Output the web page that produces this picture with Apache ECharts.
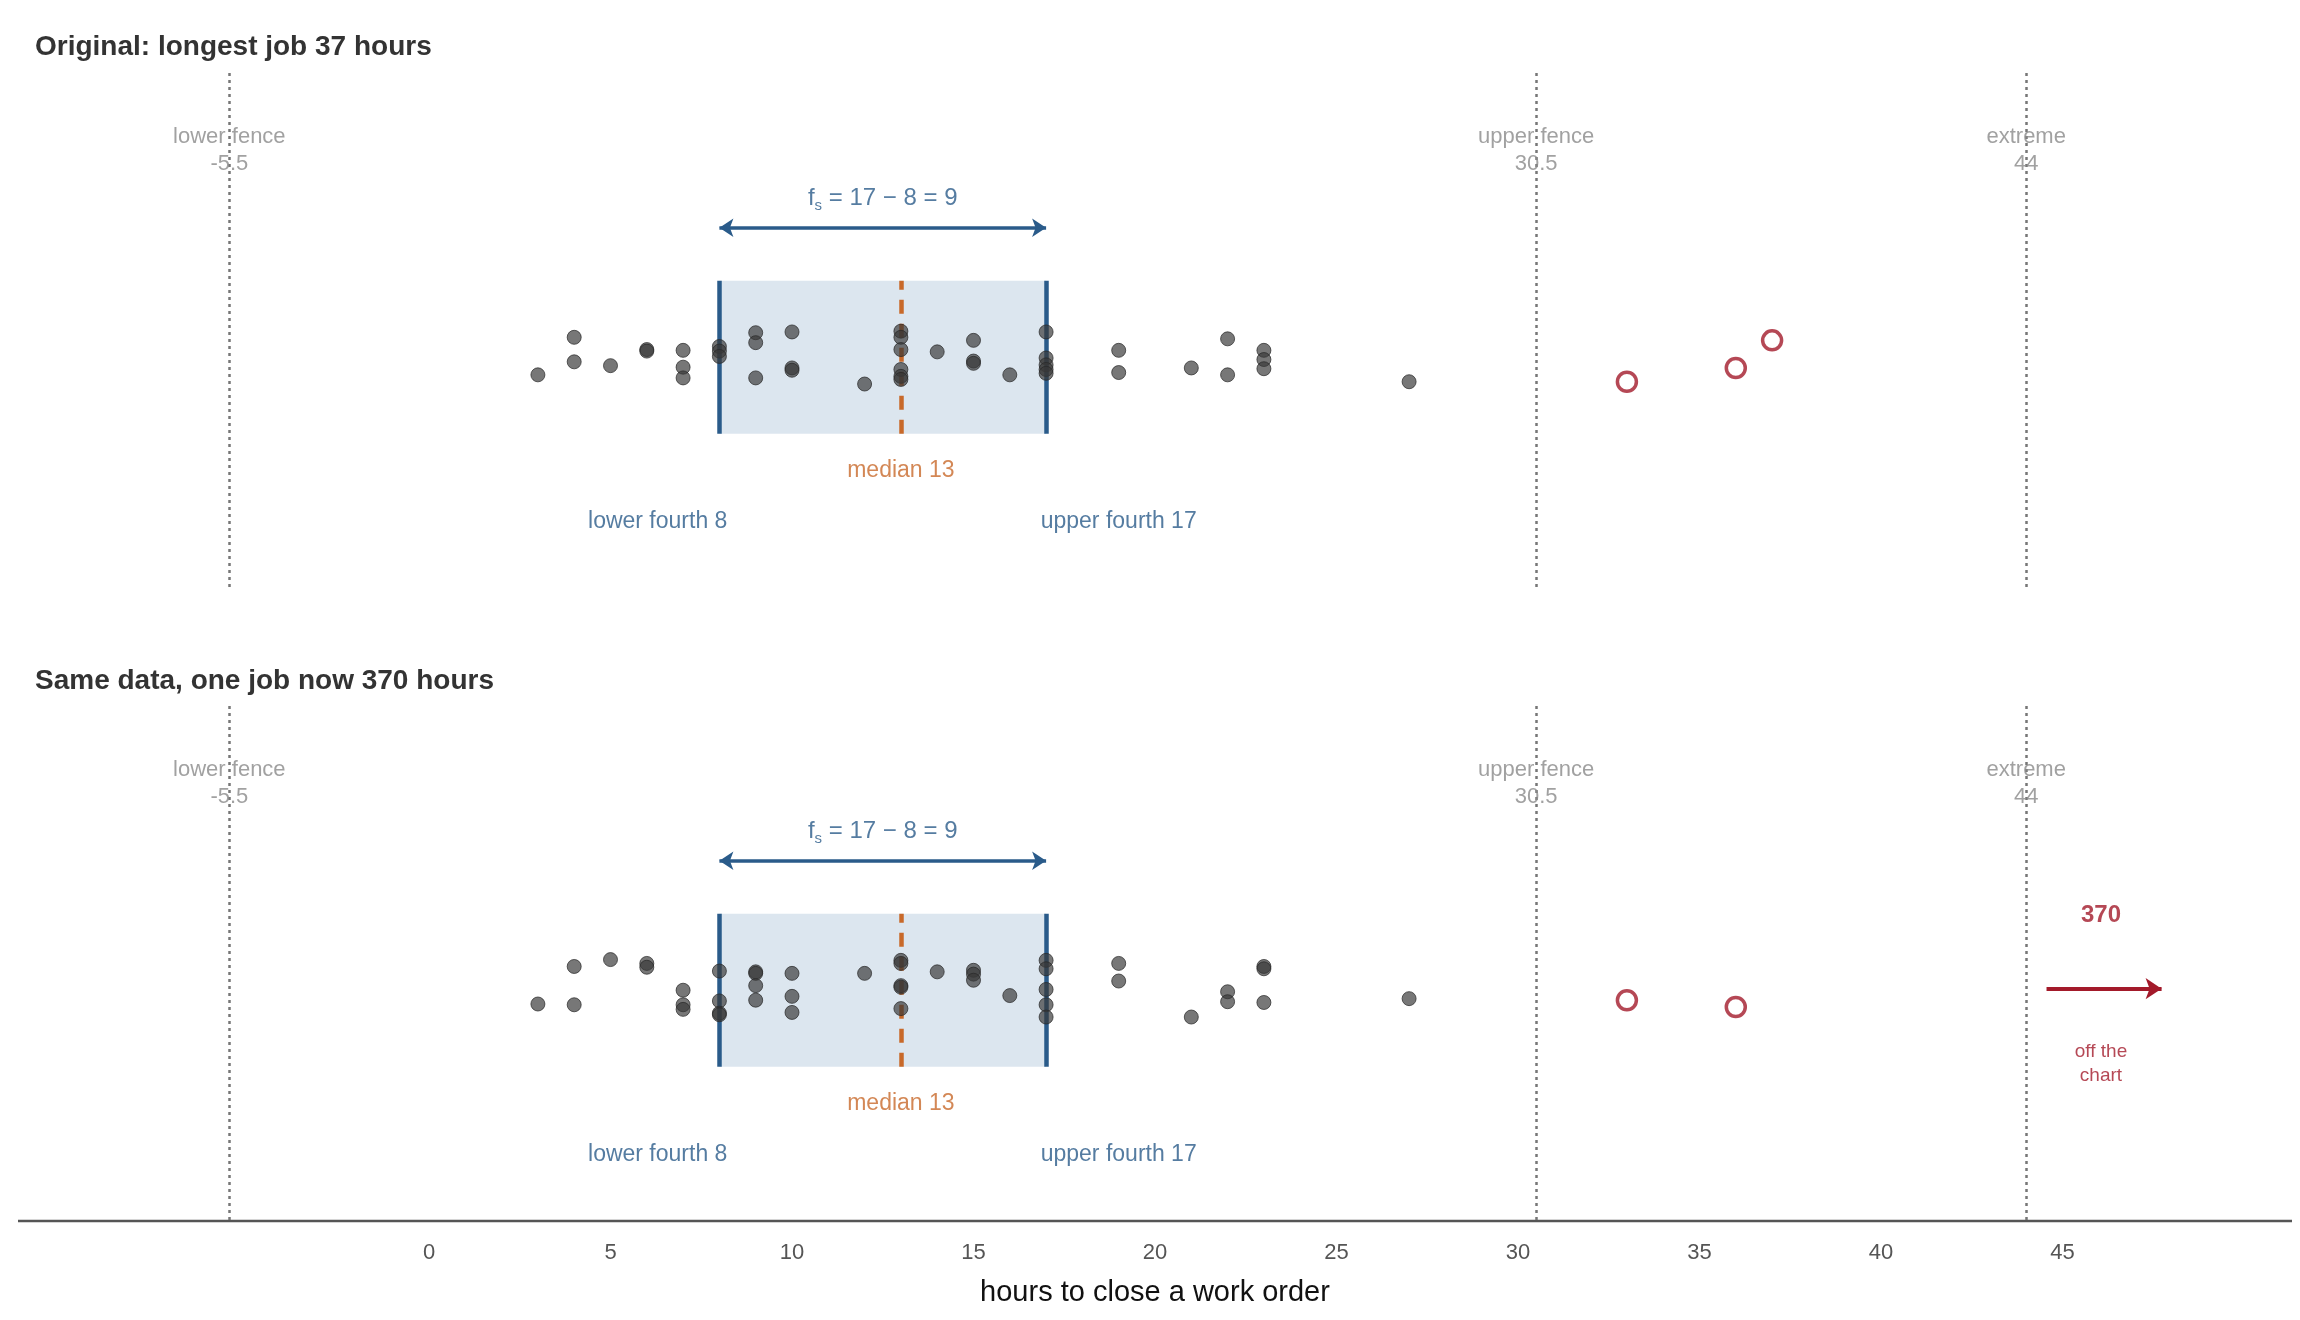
<!DOCTYPE html>
<html>
<head>
<meta charset="utf-8">
<script src="https://cdn.jsdelivr.net/npm/echarts@6/dist/echarts.min.js"></script>
<style>html,body{margin:0;background:#fff}#chart{width:2300px;height:1320px}</style>
</head>
<body>
<div id="chart"></div>
<script>
// hours per job, with a vertical jitter (box spans -1..1)
var topHours  = [3,4,4,5,6,6,7,7,7,8,8,8,9,9,9,10,10,10,12,13,13,13,13,13,13,14,15,15,15,16,17,17,17,17,17,19,19,21,22,22,23,23,23,27];
var topJitter = [-0.23,0.26,-0.06,-0.11,0.1,0.08,0.09,-0.13,-0.27,0.14,0.08,0.01,0.32,0.19,-0.27,0.33,-0.14,-0.17,-0.35,0.34,0.26,0.1,-0.16,-0.25,-0.29,0.07,0.22,-0.05,-0.08,-0.23,0.33,-0.01,-0.1,-0.16,-0.21,0.09,-0.2,-0.14,0.24,-0.23,0.09,-0.03,-0.15,-0.32];
var botHours  = [3,4,4,5,6,6,7,7,7,8,8,8,8,9,9,9,9,10,10,10,12,13,13,13,13,13,14,15,15,15,16,17,17,17,17,17,19,19,21,22,22,23,23,23,27];
var botJitter = [-0.18,0.31,-0.19,0.4,0.35,0.3,0.0,-0.19,-0.25,0.25,-0.14,-0.3,-0.32,0.24,0.22,0.06,-0.13,0.22,-0.08,-0.29,0.22,0.39,0.35,0.06,0.04,-0.24,0.24,0.26,0.21,0.13,-0.07,0.39,0.28,0.01,-0.19,-0.35,0.35,0.12,-0.35,-0.02,-0.15,0.31,0.28,-0.16,-0.11];
var topOutliers = [[33,-0.32],[36,-0.14],[37,0.22]];
var botOutliers = [[33,-0.13],[36,-0.22]];
var lowerFourth = 8, upperFourth = 17, median = 13;
var lowerFence = -5.5, upperFence = 30.5, extreme = 44;
var offChartValue = 370;
var xTicks = [0,5,10,15,20,25,30,35,40,45];

var blue = '#2a5b8a', orange = '#c8692a', red = '#a31a2a', grey = '#8a8a8a';

function pairs(xs, ys) { return xs.map(function (x, i) { return [x, ys[i]]; }); }

function panelSeries(idx, hours, jitter, outliers) {
  var out = [];
  // box + fences + fourth lines
  out.push({
    type: 'line', xAxisIndex: idx, yAxisIndex: idx, data: [], silent: true,
    markArea: { silent: true, itemStyle: { color: '#dce6ef' }, data: [[{ coord: [lowerFourth, -1] }, { coord: [upperFourth, 1] }]] },
    markLine: {
      silent: true, symbol: 'none', label: { show: false },
      data: [
        { xAxis: lowerFence, lineStyle: { color: '#777', type: [3, 4], width: 2.5 } },
        { xAxis: upperFence, lineStyle: { color: '#777', type: [3, 4], width: 2.5 } },
        { xAxis: extreme, lineStyle: { color: '#777', type: [3, 4], width: 2.5 } },
        [{ coord: [lowerFourth, -1], lineStyle: { color: blue, width: 4.5, type: 'solid' } }, { coord: [lowerFourth, 1] }],
        [{ coord: [upperFourth, -1], lineStyle: { color: blue, width: 4.5, type: 'solid' } }, { coord: [upperFourth, 1] }],
        [{ coord: [median, -1], lineStyle: { color: orange, width: 4.5, type: [14, 10] } }, { coord: [median, 1] }],
        [{ coord: [lowerFourth, 1.69], symbol: 'arrow', lineStyle: { color: blue, width: 3.5, type: 'solid' } }, { coord: [upperFourth, 1.69], symbol: 'arrow' }]
      ],
      symbolSize: 14
    }
  });
  out.push({
    type: 'scatter', xAxisIndex: idx, yAxisIndex: idx, data: pairs(hours, jitter), symbolSize: 14, z: 5,
    itemStyle: { color: 'rgba(55,55,55,0.85)', borderColor: 'rgba(40,40,40,0.9)', borderWidth: 1 }
  });
  out.push({
    type: 'scatter', xAxisIndex: idx, yAxisIndex: idx, data: outliers, symbolSize: 19, z: 5,
    itemStyle: { color: '#fff', borderColor: red, borderWidth: 3.5 }
  });
  function txt(x, y, s, color, size, bold) {
    return { value: [x, y], label: { show: true, formatter: s, color: color, fontSize: size, fontWeight: bold ? 'bold' : 'normal', position: 'inside', lineHeight: size * 1.25,
      rich: { sub: { fontSize: 15, color: blue, verticalAlign: 'bottom', padding: [12, 0, 0, 0] }, n: { fontSize: 24, color: blue } } } };
  }
  var labels = [
    txt(lowerFence, 2.7, 'lower fence\n-5.5', grey, 22),
    txt(upperFence, 2.7, 'upper fence\n30.5', grey, 22),
    txt(extreme, 2.7, 'extreme\n44', grey, 22),
    txt((lowerFourth + upperFourth) / 2, 2.08, '{n|f}{sub|s}{n| = 17 − 8 = 9}', blue, 24),
    txt(median, -1.48, 'median ' + median, orange, 23),
    txt(6.3, -2.15, 'lower fourth ' + lowerFourth, blue, 23),
    txt(19, -2.15, 'upper fourth ' + upperFourth, blue, 23)
  ];
  if (idx === 1) {
    labels.push(txt(46.06, 0.98, String(offChartValue), red, 24, true));
    labels.push(txt(46.06, -0.96, 'off the\nchart', red, 19));
    out.push({
      type: 'line', xAxisIndex: idx, yAxisIndex: idx, data: [], silent: true,
      markLine: { silent: true, symbol: ['none', 'arrow'], symbolSize: 16, label: { show: false },
        data: [[{ coord: [44.56, 0.02], lineStyle: { color: red, width: 4, type: 'solid' } }, { coord: [47.73, 0.02] }]] }
    });
  }
  out.push({ type: 'scatter', xAxisIndex: idx, yAxisIndex: idx, symbolSize: 0, data: labels, silent: true, z: 10 });
  return out;
}

var chart = echarts.init(document.getElementById('chart'));
var xBase = { type: 'value', min: -10, max: 50, interval: 5, splitLine: { show: false }, axisTick: { show: false }, axisLine: { show: false } };
chart.setOption({
  animation: false,
  title: [
    { text: 'Original: longest job 37 hours', left: 30, top: 28, textStyle: { fontSize: 28, fontWeight: 'bold', color: '#333' } },
    { text: 'Same data, one job now 370 hours', left: 30, top: 662, textStyle: { fontSize: 28, fontWeight: 'bold', color: '#333' } }
  ],
  grid: [
    { left: 66, right: 56, top: 70, height: 517 },
    { left: 66, right: 56, top: 703, height: 517 }
  ],
  xAxis: [
    Object.assign({}, xBase, { gridIndex: 0, axisLabel: { show: false } }),
    Object.assign({}, xBase, {
      gridIndex: 1, name: 'hours to close a work order', nameLocation: 'middle', nameGap: 58,
      nameTextStyle: { fontSize: 29, color: '#111' },
      axisLabel: { fontSize: 22, color: '#555', margin: 22, formatter: function (v) { return xTicks.indexOf(v) >= 0 ? String(v) : ''; } }
    })
  ],
  yAxis: [
    { type: 'value', gridIndex: 0, min: -3, max: 3.75, show: false },
    { type: 'value', gridIndex: 1, min: -3, max: 3.75, show: false }
  ],
  graphic: [{ type: 'line', shape: { x1: 18, y1: 1221, x2: 2292, y2: 1221 }, style: { stroke: '#555', lineWidth: 2.5 } }],
  series: panelSeries(0, topHours, topJitter, topOutliers).concat(panelSeries(1, botHours, botJitter, botOutliers))
});
</script>
</body>
</html>
